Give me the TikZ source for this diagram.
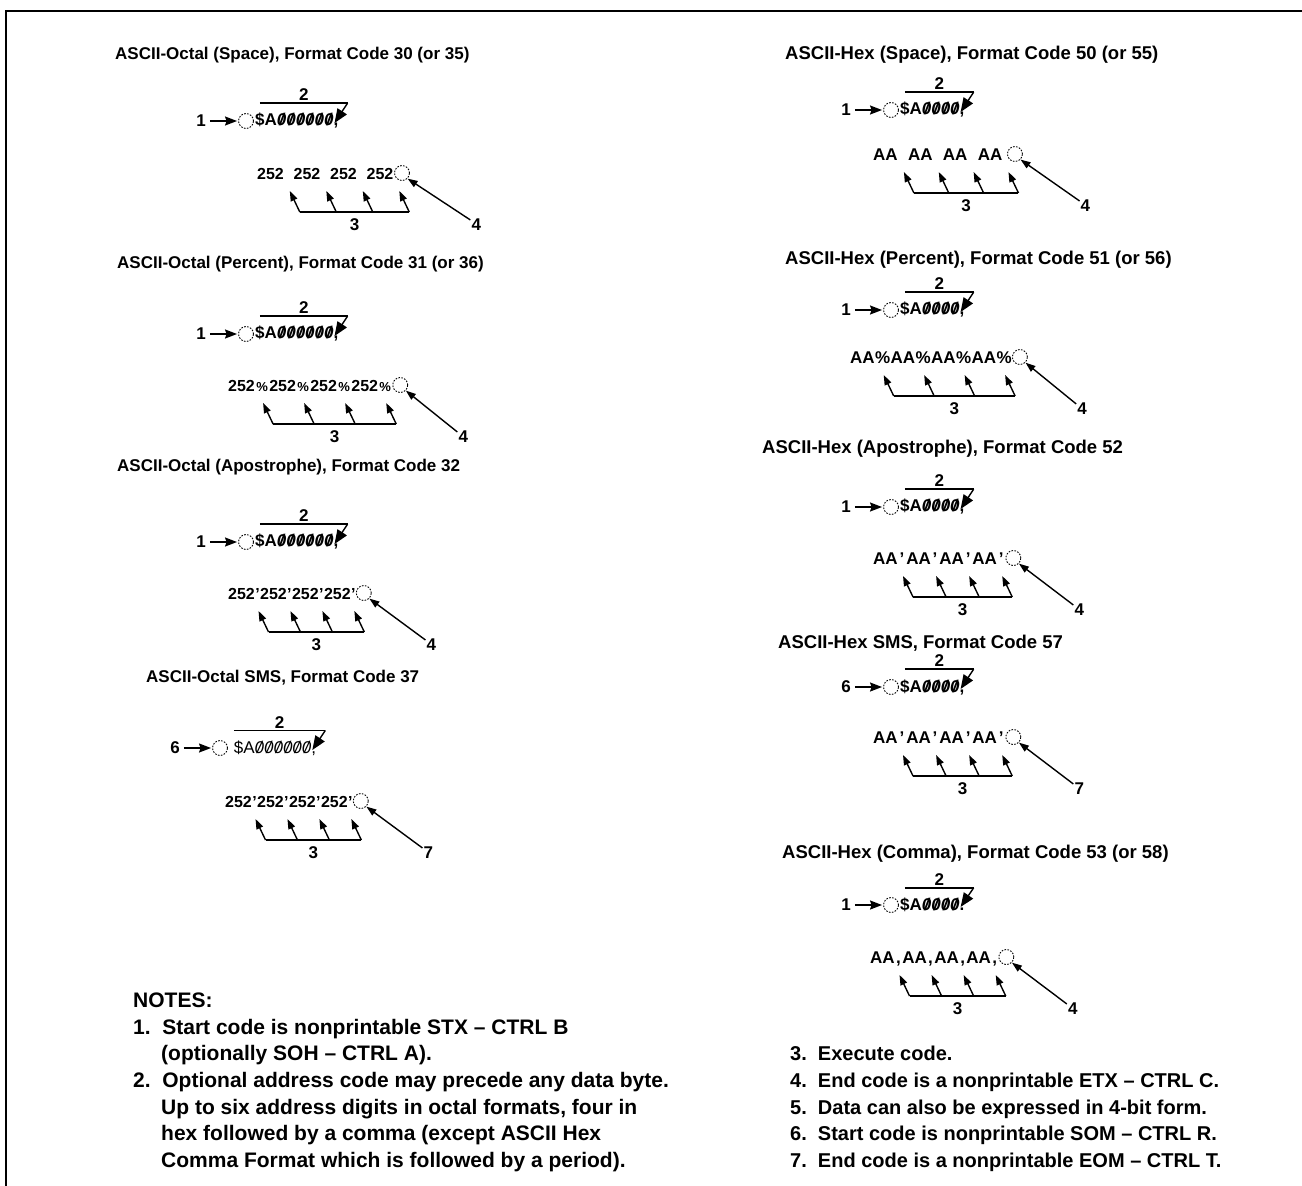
\documentclass[tikz,border=0pt]{standalone}
\usepackage{fontspec}
\setmainfont{Liberation Sans}
\usetikzlibrary{arrows.meta,calc}
\newcommand\sz{\ooalign{0\cr\hidewidth/\hidewidth\cr}}
\newcommand\addrO{\$A{\itshape\sz\sz\sz\sz\sz\sz},}
\newcommand\addrS{{\mdseries\ \$A{\itshape\sz\sz\sz\sz\sz\sz},}}
\newcommand\addrH{\$A{\itshape\sz\sz\sz\sz},}
\newcommand\addrC{\$A{\itshape\sz\sz\sz\sz}.}
\newcommand\gap[1]{\rule{#1}{0pt}}
\newcommand\circoff{8}
\tikzset{
  ttl/.style={font=\fontsize{17}{20}\selectfont\bfseries, inner sep=0pt, anchor=base west},
  ttlr/.style={font=\fontsize{18.5}{21}\selectfont\bfseries, inner sep=0pt, anchor=base west},
  dat/.style={font=\fontsize{17}{20}\selectfont\bfseries, inner sep=0pt},
  rowt/.style={font=\fontsize{17}{20}\selectfont\bfseries, inner sep=0pt},
  lab/.style={font=\fontsize{17}{20}\selectfont\bfseries, inner sep=0pt},
  note/.style={font=\fontsize{21}{26}\selectfont\bfseries, inner sep=0pt, anchor=base west},
  noter/.style={font=\fontsize{20}{26}\selectfont\bfseries, inner sep=0pt, anchor=base west},
  dcirc/.style={circle, draw, dash pattern=on 1.6pt off 1.4pt, line width=0.9pt, minimum size=15pt, inner sep=0pt},
  arr/.style={line width=1.4pt, -{Triangle[length=10pt,width=7pt]}},
  bigarr/.style={line width=1.4pt, -{Triangle[length=14pt,width=11pt]}},
  brk/.style={line width=1.4pt},
  stl/.style={line width=1.4pt, -{Stealth[length=12pt,width=9pt,inset=1.5pt]}},
}
\newcommand\datrow[4]{%
  \path #2 node[rowt,anchor=base west] (#1b1) {#3}
    (#1b1.base east) node[rowt,anchor=base west] (#1s1) {#4}
    (#1s1.base east) node[rowt,anchor=base west] (#1b2) {#3}
    (#1b2.base east) node[rowt,anchor=base west] (#1s2) {#4}
    (#1s2.base east) node[rowt,anchor=base west] (#1b3) {#3}
    (#1b3.base east) node[rowt,anchor=base west] (#1s3) {#4}
    (#1s3.base east) node[rowt,anchor=base west] (#1b4) {#3}
    (#1b4.base east) node[rowt,anchor=base west] (#1s4) {#4};
}
\newcommand\fmtblock[9]{%
  \node[lab] (#1l) at (#2,#3) {#4};
  \node[dcirc] (#1c) at ($(#1l)+(45,0)$) {};
  \draw[stl,shorten <=4pt,shorten >=1pt] (#1l) -- (#1c);
  \node[dat,anchor=west] (#1a) at ($(#1c.east)+(1,0)$) {#5};
  \coordinate (#1ol) at ($(#1a.north west)+(5,-10)$);
  \coordinate (#1or) at ($(#1a.north east)+(9,-10)$);
  \coordinate (#1ot) at ($(#1a.east)+(-4,2)$);
  \draw[brk] (#1ol) -- (#1or);
  \draw[bigarr] (#1or) -- (#1ot);
  \node[lab,anchor=south] (#1two) at ($(#1ol)!0.5!(#1or)+(0,-2)$) {2};
  \datrow{#1}{#6}{#7}{#8}%
  \node[dcirc] (#1e) at ($(#1s4.base east)+(\circoff,-6)$) {};
  \foreach \i in {1,...,4}{\draw[arr] ($(#1s\i.base)+(11,33)$) -- ($(#1s\i.base)+(1,12)$);}
  \draw[brk] ($(#1s1.base)+(11,33)$) -- ($(#1s4.base)+(11,33)$);
  \node[lab] (#1three) at ($(#1s1.base)!0.5!(#1s4.base)+(11,46)$) {3};
  \node[lab] (#1end) at ($(#1s4.base)+(78,46)$) {#9};
  \draw[arr] ($(#1end.north west)+(-1,1)$) -- (#1e.south east);
}
\begin{document}
\begin{tikzpicture}[x=1pt,y=-1pt]
\useasboundingbox (0,0) rectangle (1302,1186);
\draw[line width=1.6pt] (6,1186) -- (6,11) -- (1302,11);

% ---- left column: octal
\begin{scope}[rowt/.style={font=\fontsize{16}{19}\selectfont\bfseries, inner sep=0pt}]
\node[ttl] (tL1) at (115,59) {ASCII-Octal (Space), Format Code 30 (or 35)};
\renewcommand\circoff{-1}
\fmtblock{A}{201}{121}{1}{\addrO}{(257,179)}{252}{\gap{9pt}}{4}
\renewcommand\circoff{8}
\node[ttl] (tL2) at (117,268) {ASCII-Octal (Percent), Format Code 31 (or 36)};
\fmtblock{B}{201}{334}{1}{\addrO}{(228,391)}{252}{\gap{1pt}{\fontsize{13}{15}\selectfont\%}\gap{1pt}}{4}
\node[ttl] (tL3) at (117,471) {ASCII-Octal (Apostrophe), Format Code 32};
\fmtblock{C}{201}{542}{1}{\addrO}{(228,599)}{252}{’}{4}
\node[ttl] (tL4) at (146,682) {ASCII-Octal SMS, Format Code 37};
\fmtblock{D}{175}{748}{6}{\addrS}{(225,807)}{252}{’}{7}
\end{scope}

% ---- right column: hex
\node[ttlr] (tR1) at (785,59) {ASCII-Hex (Space), Format Code 50 (or 55)};
\renewcommand\circoff{2.5}
\fmtblock{E}{846}{110}{1}{\addrH}{(873,160)}{AA}{\gap{9.5pt}}{4}
\renewcommand\circoff{8}
\node[ttlr] (tR2) at (785,264) {ASCII-Hex (Percent), Format Code 51 (or 56)};
\fmtblock{F}{846}{310}{1}{\addrH}{(850,363)}{AA}{\%}{4}
\node[ttlr] (tR3) at (762,453) {ASCII-Hex (Apostrophe), Format Code 52};
\fmtblock{G}{846}{507}{1}{\addrH}{(873,564)}{AA}{\gap{1.5pt}’\gap{1.5pt}}{4}
\node[ttlr] (tR4) at (778,648) {ASCII-Hex SMS, Format Code 57};
\fmtblock{H}{846}{687}{6}{\addrH}{(873,743)}{AA}{\gap{1.5pt}’\gap{1.5pt}}{7}
\node[ttlr] (tR5) at (782,858) {ASCII-Hex (Comma), Format Code 53 (or 58)};
\fmtblock{K}{846}{905}{1}{\addrC}{(870,963)}{AA}{\gap{1pt},\gap{1pt}}{4}

% ---- notes
\node[note] (nh) at (133,1007) {NOTES:};
\node[note] (n1) at (133,1034) {1.~~Start code is nonprintable STX – CTRL B};
\node[note] (n1b) at (161,1060) {(optionally SOH – CTRL A).};
\node[note] (n2) at (133,1087) {2.~~Optional address code may precede any data byte.};
\node[note] (n2b) at (161,1114) {Up to six address digits in octal formats, four in};
\node[note] (n2c) at (161,1140) {hex followed by a comma (except ASCII Hex};
\node[note] (n2d) at (161,1167) {Comma Format which is followed by a period).};
\node[noter] (n3) at (790,1060) {3.~~Execute code.};
\node[noter] (n4) at (790,1087) {4.~~End code is a nonprintable ETX – CTRL C.};
\node[noter] (n5) at (790,1114) {5.~~Data can also be expressed in 4-bit form.};
\node[noter] (n6) at (790,1140) {6.~~Start code is nonprintable SOM – CTRL R.};
\node[noter] (n7) at (790,1167) {7.~~End code is a nonprintable EOM – CTRL T.};
\end{tikzpicture}
\end{document}
